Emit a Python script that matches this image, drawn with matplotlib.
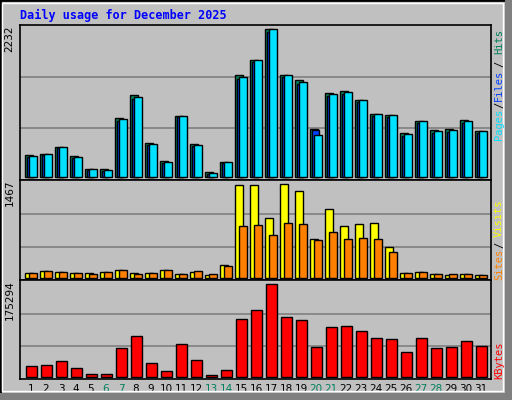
import matplotlib
matplotlib.use("Agg")
import matplotlib.pyplot as plt
from matplotlib.patches import Rectangle
import numpy as np

days = list(range(1, 32))
weekend_days = [6, 7, 13, 14, 20, 21, 27, 28]
hits = [324, 339, 450, 313, 112, 112, 889, 1237, 506, 233, 914, 495, 67, 218, 1535, 1762, 2232,
        1535, 1459, 717, 1262, 1297, 1161, 945, 929, 657, 838, 702, 717, 853, 687]
files = [309, 339, 450, 294, 112, 97, 869, 1202, 490, 218, 914, 480, 51, 218, 1505, 1762, 2232,
         1535, 1429, 627, 1247, 1277, 1161, 945, 929, 641, 838, 687, 702, 838, 687]
pages = [300, 330, 440, 285, 105, 90, 850, 1180, 480, 210, 900, 470, 45, 210, 1480, 1740, 2200,
         1510, 1400, 702, 1225, 1255, 1140, 925, 910, 625, 820, 670, 685, 820, 670]
visits = [69, 101, 85, 69, 69, 85, 117, 69, 69, 117, 53, 85, 37, 196, 1452, 1452, 943,
          1467, 1357, 609, 1086, 816, 848, 864, 482, 69, 85, 53, 37, 53, 37]
sites = [69, 101, 85, 69, 53, 85, 117, 53, 69, 117, 53, 101, 53, 180, 816, 832, 673,
         864, 848, 594, 721, 609, 625, 609, 403, 69, 85, 53, 53, 53, 37]
kbytes = [20400, 22300, 30000, 16600, 5100, 5100, 54800, 77800, 26100, 10800, 62500, 31900, 3200,
          12700, 110300, 127500, 175294, 114100, 108400, 56700, 95000, 96900, 87300, 73900, 72000,
          47200, 73900, 54800, 56700, 68200, 58600]
title = "Daily usage for December 2025"

BG = "#c0c0c0"
C_HITS, C_FILES, C_PAGES = "#00805c", "#0040ff", "#00e0ff"
C_VISITS, C_SITES, C_KB = "#ffff00", "#ff8000", "#ff0000"
mono = "DejaVu Sans Mono"

fig = plt.figure(figsize=(5.12, 4.0), dpi=100)
fig.patch.set_facecolor(BG)
# bevel border
fig.add_artist(Rectangle((0, 0), 1, 1, transform=fig.transFigure, fill=False, ec="black", lw=2))
fig.add_artist(Rectangle((505/512, 0), 7/512, 1, transform=fig.transFigure, fc="#808080", ec="none"))
fig.add_artist(Rectangle((0, 0), 1, 7/400, transform=fig.transFigure, fc="#808080", ec="none"))
fig.add_artist(Rectangle((2/512, 9/400), 501/512, 388/400, transform=fig.transFigure, fill=False, ec="white", lw=1))

L, W = 20/512, 471/512
ax1 = fig.add_axes([L, 220/400, W, 155/400])
ax2 = fig.add_axes([L, 120/400, W, 100/400])
ax3 = fig.add_axes([L, 21/400, W, 99/400])

x = np.array(days)
for ax in (ax1, ax2, ax3):
    ax.set_facecolor(BG)
    ax.set_xlim(1 - 11/15, 1 + 460/15)
    ax.set_xticks([]); ax.set_yticks([])
    for s in ax.spines.values():
        s.set_color("black"); s.set_linewidth(1.2)

def grid(ax, m):
    for f in (0.33, 0.68):
        ax.axhline(m * f, color="#808080", lw=1.2, zorder=0)

# top panel
m1 = max(hits)
ax1.set_ylim(-0.022 * m1, m1 * 1.03)
grid(ax1, m1)
ax1.bar(x - 0.38, hits, width=0.5, align="edge", color=C_HITS, ec="black", lw=1, zorder=2)
ax1.bar(x - 0.27, pages, width=0.5, align="edge", color=C_FILES, ec="black", lw=1, zorder=3)
ax1.bar(x - 0.16, files, width=0.53, align="edge", color=C_PAGES, ec="black", lw=1, zorder=4)

# middle panel
m2 = max(visits)
ax2.set_ylim(-0.025 * m2, m2 * 1.047)
grid(ax2, m2)
ax2.bar(x - 0.38, visits, width=0.5, align="edge", color=C_VISITS, ec="black", lw=1, zorder=2)
ax2.bar(x - 0.11, sites, width=0.49, align="edge", color=C_SITES, ec="black", lw=1, zorder=3)

# bottom panel
m3 = max(kbytes)
ax3.set_ylim(-0.022 * m3, m3 * 1.047)
grid(ax3, m3)
ax3.bar(x - 0.31, kbytes, width=0.69, align="edge", color=C_KB, ec="black", lw=1, zorder=2)

# day labels
for d in days:
    ax3.text(d, -0.1, str(d), transform=ax3.get_xaxis_transform(), ha="center", va="center",
             fontsize=7.5, family="DejaVu Sans",
             color=C_HITS if d in weekend_days else "black")

# max labels
for ax, m in ((ax1, m1), (ax2, m2), (ax3, m3)):
    ax.text(-0.012, 1.0, str(m), transform=ax.transAxes, rotation=90, ha="right", va="top",
            fontsize=7.5, family="DejaVu Sans")

fig.text(20/512, 1 - 15/400, title, fontsize=8.5, fontweight="bold", family=mono,
         color="#0000ff", va="center", ha="left")

def side(parts, xpx):
    for txt, col, ypx in parts:
        fig.text(xpx/512, 1 - ypx/400, txt, rotation=90, color=col, fontsize=7.5, family=mono,
                 ha="center", va="center")

side([("Pages", C_PAGES, 124), ("/", "black", 105), ("Files", C_FILES, 85),
      ("/", "black", 64), ("Hits", C_HITS, 42)], 499)
side([("Sites", C_SITES, 264), ("/", "black", 245), ("Visits", C_VISITS, 218)], 499)
side([("KBytes", C_KB, 360)], 499)

fig.savefig("out.png", dpi=100, facecolor=BG)
